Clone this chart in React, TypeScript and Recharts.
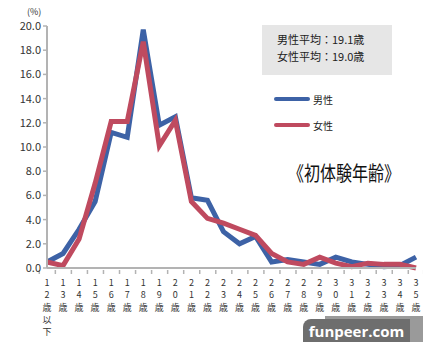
import { LineChart, Line, XAxis, YAxis } from "recharts";

const ages = [
  "12歳以下", "13歳", "14歳", "15歳", "16歳", "17歳", "18歳", "19歳",
  "20歳", "21歳", "22歳", "23歳", "24歳", "25歳", "26歳", "27歳",
  "28歳", "29歳", "30歳", "31歳", "32歳", "33歳", "34歳", "35歳以上",
];
const male = [0.5, 1.2, 3.2, 5.5, 11.2, 10.8, 19.7, 11.8, 12.5, 5.8, 5.6, 3.0, 2.0, 2.6, 0.5, 0.7, 0.5, 0.3, 0.9, 0.5, 0.3, 0.1, 0.2, 0.9];
const female = [0.5, 0.2, 2.4, 7.0, 12.1, 12.1, 18.7, 10.1, 12.2, 5.5, 4.1, 3.7, 3.2, 2.7, 1.2, 0.5, 0.3, 0.9, 0.4, 0.1, 0.4, 0.3, 0.3, 0.0];
const yTicks = [0, 2, 4, 6, 8, 10, 12, 14, 16, 18, 20];
const seriesNames = ["男性", "女性"];
const averages = ["男性平均：19.1歳", "女性平均：19.0歳"];

const data = ages.map((age, i) => ({ age, male: male[i], female: female[i] }));

const BLUE = "#3d62a6";
const RED = "#bf4a5f";
const AXIS = "#b3b3b3";
const FONT = "'Noto Sans CJK JP', sans-serif";

function AgeTick({ x, y, payload, index }: any) {
  const chars = String(payload.value).split("");
  const half = 7.7;
  return (
    <g>
      <line x1={x - half} x2={x - half} y1={y - 6} y2={y - 2} stroke={AXIS} strokeWidth={1.5} />
      {index === ages.length - 1 && (
        <line x1={x + half} x2={x + half} y1={y - 6} y2={y - 2} stroke={AXIS} strokeWidth={1.5} />
      )}
      <text x={x} y={y + 10} textAnchor="middle" fontSize={9} fill="#333" fontFamily={FONT}>
        {chars.map((c, i) => (
          <tspan key={i} x={x} dy={i === 0 ? 0 : 12.3}>{c}</tspan>
        ))}
      </text>
    </g>
  );
}

export default function App() {
  return (
    <div style={{ position: "absolute", left: 0, top: 0, width: 423, height: 342, background: "#fff", fontFamily: FONT }}>
      <LineChart width={423} height={342} data={data} margin={{ top: 26, right: 7, bottom: 14, left: 7 }}>
        <XAxis
          dataKey="age"
          interval={0}
          height={60}
          tick={<AgeTick />}
          tickLine={false}
          axisLine={{ stroke: AXIS, strokeWidth: 2 }}
        />
        <YAxis
          width={40}
          domain={[0, 20]}
          ticks={yTicks}
          tickFormatter={(v: number) => v.toFixed(1)}
          tick={{ fill: "#333", fontSize: 11, fontFamily: FONT }}
          tickLine={{ stroke: AXIS, strokeWidth: 1.5 }}
          tickSize={4}
          axisLine={{ stroke: AXIS, strokeWidth: 2 }}
        />
        <Line dataKey="male" stroke={BLUE} strokeWidth={5} dot={false} type="linear" isAnimationActive={false} strokeLinejoin="miter" />
        <Line dataKey="female" stroke={RED} strokeWidth={5} dot={false} type="linear" isAnimationActive={false} strokeLinejoin="miter" />
      </LineChart>

      <div style={{ position: "absolute", left: 27, top: 5, fontSize: 9, color: "#333" }}>(%)</div>

      <div style={{ position: "absolute", left: 262, top: 25, width: 130, height: 50, background: "#e6e6e6" }}>
        {averages.map((t, i) => (
          <div key={t} style={{ position: "absolute", left: 15, top: 6 + i * 17, fontSize: 11, color: "#222", whiteSpace: "nowrap" }}>{t}</div>
        ))}
      </div>

      {seriesNames.map((name, i) => (
        <div key={name} style={{ position: "absolute", left: 274, top: 92 + i * 26, height: 14, display: "flex", alignItems: "center" }}>
          <div style={{ width: 36, height: 4, borderRadius: 2, background: i === 0 ? BLUE : RED }} />
          <span style={{ marginLeft: 3, fontSize: 10, color: "#222" }}>{name}</span>
        </div>
      ))}

      <div style={{ position: "absolute", left: 288, top: 158, fontSize: 20, color: "#111", whiteSpace: "nowrap", transform: "scaleX(0.8)", transformOrigin: "left top" }}>《初体験年齢》</div>

      <div style={{ position: "absolute", left: 325, top: 316, width: 98, height: 26, background: "#9a9a9a" }} />
      <div style={{ position: "absolute", left: 303, top: 319, width: 107, height: 23, borderRadius: "8px 0 0 0", background: "#6e6e6e", color: "#fff", fontSize: 15, fontWeight: 700, fontFamily: "'Open Sans', sans-serif", display: "flex", alignItems: "center", justifyContent: "center" }}>funpeer.com</div>
    </div>
  );
}
